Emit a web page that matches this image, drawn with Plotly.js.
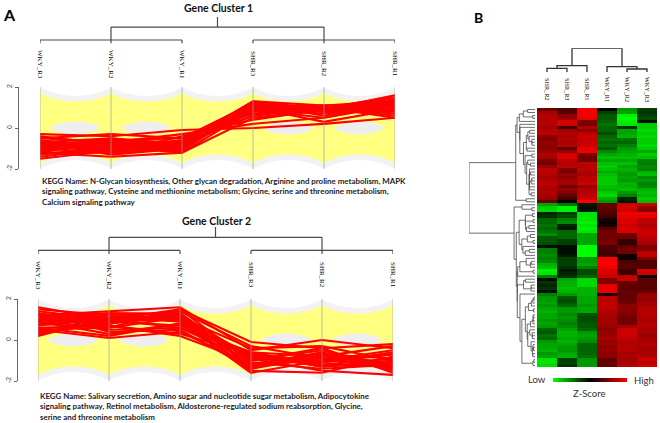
<!DOCTYPE html>
<html><head><meta charset="utf-8">
<script src="https://cdn.plot.ly/plotly-3.0.1.min.js"></script>
<style>html,body{margin:0;padding:0;background:#fff}#chart{width:660px;height:423px}</style>
</head><body><div id="chart"></div>
<script>
// ---------------- DATA ----------------
const samplesA = ['WKY_R3','WKY_R2','WKY_R1','SHR_R3','SHR_R2','SHR_R1'];
const samplesB = ['SHR_R2','SHR_R3','SHR_R1','WKY_R1','WKY_R2','WKY_R3'];
const titles = ['Gene Cluster 1','Gene Cluster 2'];
const keggText1 = 'KEGG Name: N-Glycan biosynthesis, Other glycan degradation, Arginine and proline metabolism, MAPK<br>signaling pathway, Cysteine and methionine metabolism; Glycine, serine and threonine metabolism,<br>Calcium signaling pathway';
const keggText2 = 'KEGG Name: Salivary secretion, Amino sugar and nucleotide sugar metabolism, Adipocytokine<br>signaling pathway, Retinol metabolism, Aldosterone-regulated sodium reabsorption, Glycine,<br>serine and threonine metabolism';
const yTicks = [-2, 0, 2];

// gene profiles (z-scores) in sample order samplesA
const cluster1Genes = [
 [-0.3,-0.4,-0.1,0.0,0.2,0.5],[-0.5,-0.3,-0.5,1.2,0.9,1.6],[-0.6,-0.9,-0.6,1.0,1.0,1.2],
 [-0.7,-0.5,-0.8,1.3,0.9,1.0],[-0.8,-1.0,-0.9,0.8,1.1,1.3],[-0.9,-0.7,-1.0,1.1,0.8,0.9],
 [-1.0,-1.2,-0.7,0.6,1.0,1.5],[-1.1,-0.8,-1.1,1.2,1.0,0.7],[-1.2,-1.4,-1.2,0.5,0.9,1.4],
 [-1.3,-0.9,-0.8,0.9,0.7,1.1],[-1.5,-1.1,-0.9,1.0,1.1,0.8],[-0.4,-0.8,-1.0,1.2,0.6,1.2],
 [-0.6,-1.2,-0.4,0.4,0.9,1.3],[-0.8,-0.6,-0.7,1.3,1.1,1.0],[-1.0,-0.9,-1.2,0.9,0.5,1.1],
 [-1.2,-0.6,-0.5,0.7,1.0,1.2],[-0.7,-1.3,-1.0,1.1,1.0,0.6],[-0.9,-1.1,-0.6,1.0,0.3,0.9],
 [-1.1,-0.5,-0.9,0.8,1.0,1.4],[-1.4,-1.0,-1.1,1.1,0.9,1.0],[-0.5,-0.7,-0.3,0.2,0.5,1.2],
 [-0.8,-0.9,-1.0,1.2,1.0,0.5],[-1.0,-0.7,-0.8,0.6,1.1,1.1],[-1.2,-1.2,-1.0,1.0,0.8,1.3]
];
const cluster2Genes = [
 [1.6,1.0,1.5,-0.1,-0.4,-0.2],[1.2,1.4,1.6,-0.5,0.0,-0.4],[1.0,0.9,1.3,-1.0,-0.5,-1.3],
 [0.8,1.2,0.9,-0.8,-1.0,-0.7],[0.5,0.6,1.1,-1.2,-0.6,-1.5],[0.3,0.9,0.7,-0.6,-1.2,-0.9],
 [1.3,0.4,0.5,-1.4,-0.8,-1.1],[0.2,1.1,1.0,-0.9,-1.5,-1.7],[1.1,0.7,0.2,-1.1,-1.1,-0.6],
 [0.9,1.3,1.2,-1.3,-0.7,-1.2],[0.6,0.2,0.8,-0.7,-1.3,-1.0],[1.4,1.0,1.0,-1.5,-1.6,-0.8],
 [0.4,0.8,1.4,-0.3,-0.9,-1.4],[1.0,0.5,0.6,-1.0,-0.4,-1.6],[0.7,1.1,0.9,-1.6,-1.0,-0.5],
 [1.2,0.8,1.2,-0.8,-1.2,-1.3],[0.5,0.1,0.4,-1.2,-0.7,-0.9],[1.5,1.2,1.1,-0.4,-0.3,-1.0],
 [0.8,0.6,1.5,-1.1,-1.4,-1.2],[0.3,1.0,0.6,-0.6,-0.8,-0.3],[1.1,1.3,1.3,-1.3,-0.9,-1.1],
 [0.9,0.3,0.8,-0.9,-1.1,-0.7],[1.3,0.9,1.0,-1.4,-0.6,-1.4],[0.6,0.7,0.3,-0.7,-1.3,-1.1]
];

// background envelopes (all genes), read at fractions of each gap between axes
const envFractions = [0, 0.08, 0.2, 0.35, 0.5, 0.65, 0.8, 0.92, 1];
const yellowTop = [1.72, 1.55, 1.42, 1.32, 1.28, 1.32, 1.42, 1.55, 1.72];
const grayTop   = [1.98, 1.85, 1.7, 1.6, 1.55, 1.6, 1.7, 1.85, 1.98];
const holeFractions = [0.12, 0.25, 0.38, 0.5, 0.62, 0.75, 0.86];
const holeHalf      = [0, 0.2, 0.29, 0.32, 0.29, 0.2, 0];
const holeGaps = [0, 1, 3, 4];

// heatmap z-scores, rows top->bottom, columns samplesB
const heatRows = [
 [0.9,0.6,1.9,0.0,-1.2,-0.5],[1.3,0.7,1.9,-0.5,-1.3,-0.4],[1.4,1.1,1.9,-0.7,-1.9,-0.5],
 [1.4,1.2,1.8,-0.7,-2.0,-0.6],[1.4,1.7,1.0,-0.8,-1.9,-0.1],[1.4,1.7,0.9,-0.9,-1.8,-1.6],
 [1.3,0.5,1.4,-0.8,-0.4,-1.6],[1.4,1.3,1.1,-0.8,-1.3,-1.7],[1.5,1.4,1.5,-0.6,-1.3,-1.6],
 [1.1,1.3,1.6,-0.8,-1.4,-1.7],[1.0,1.4,1.5,-0.9,-0.9,-1.6],[1.2,1.3,1.6,-0.8,-0.8,-1.6],
 [1.1,1.4,1.6,-0.9,-1.0,-1.7],[1.1,0.7,1.8,-0.7,-1.2,-1.6],[1.2,1.2,1.9,-1.1,-1.3,-1.3],
 [1.4,1.7,1.0,-1.3,-1.4,-1.6],[1.3,1.7,0.9,-1.5,-1.5,-1.5],[1.0,1.5,0.9,-1.3,-1.3,-1.0],
 [0.9,1.4,1.5,-1.5,-1.5,-1.0],[1.2,1.5,1.4,-1.6,-1.3,-1.1],[1.5,1.0,1.5,-1.5,-1.4,-1.0],
 [1.5,0.9,1.4,-1.3,-1.3,-1.4],[1.4,1.2,1.3,-1.5,-1.2,-1.5],[1.3,1.1,1.5,-1.6,-1.3,-1.1],
 [1.4,1.3,1.4,-1.6,-1.2,-1.2],[1.5,1.3,1.6,-1.6,-1.4,-1.0],[1.4,0.9,1.2,-1.5,-1.4,-1.1],
 [1.3,1.2,1.4,-1.4,-1.5,-1.4],[1.4,1.0,1.4,-1.6,-1.2,-1.5],[1.3,0.8,1.5,-1.7,-1.0,-1.4],
 [1.2,0.5,1.6,-1.4,-0.3,-1.6],[0.8,0.0,2.0,-1.2,-0.2,-1.5],
 [-1.3,-0.9,-0.2,0.8,1.6,1.6],[-1.6,-1.9,-0.1,0.8,1.7,1.2],[-1.7,-1.9,-0.2,0.7,1.6,1.0],
 [-0.3,-0.5,-1.8,0.6,1.9,1.9],[-0.4,-0.6,-1.8,0.5,1.8,1.8],[-0.8,-1.0,-1.8,0.2,1.7,1.5],
 [-0.8,-1.1,-1.9,0.1,1.7,1.5],[-0.9,-0.3,-1.8,0.2,1.6,1.4],[-0.8,-0.2,-1.9,0.7,1.7,1.5],
 [-0.9,-0.8,-1.8,0.9,1.7,1.6],[-1.1,-0.8,-1.3,0.9,0.9,1.6],[-0.7,-0.8,-1.3,0.9,0.9,1.5],
 [-0.7,-0.5,-1.3,0.9,0.4,1.4],[-0.6,-0.5,-1.3,1.0,0.4,1.3],[-0.1,-0.1,-2.0,0.6,0.8,1.0],
 [-1.0,-0.1,-2.0,0.6,0.9,1.0],[-1.0,-0.1,-2.0,0.5,0.9,1.5],[-1.1,-0.2,-2.0,0.5,0.1,1.5],
 [-1.0,-0.5,-1.2,2.0,0.1,1.0],[-1.1,-0.5,-1.2,2.0,0.6,0.6],[-1.4,-0.5,-1.3,2.0,0.7,0.6],
 [-1.5,-0.4,-1.0,1.9,0.7,0.6],[-1.9,-0.2,-0.6,1.7,0.5,1.7],[-1.8,-0.3,-0.6,1.7,0.5,1.6],
 [-1.0,-0.4,-0.8,1.6,1.5,0.1],[-0.1,-1.3,-1.7,1.0,1.6,0.7],[-0.4,-1.4,-1.7,1.0,0.8,0.7],
 [-0.3,-1.4,-1.7,1.8,0.8,0.7],[-0.4,-1.5,-1.4,1.8,0.7,0.7],[-0.1,-1.4,-1.4,1.8,0.8,0.8],
 [-1.0,-1.2,-1.4,0.2,0.8,1.2],[-1.2,-0.7,-1.3,1.5,0.8,1.2],[-1.2,-0.6,-1.3,1.5,0.8,1.2],
 [-1.3,-0.7,-1.3,1.5,0.9,1.3],[-1.2,-0.8,-1.2,1.5,1.1,1.3],[-1.3,-1.2,-1.3,1.5,1.1,1.4],
 [-1.4,-1.2,-1.3,1.4,1.1,1.4],[-1.3,-1.1,-0.7,1.3,1.0,1.4],[-1.3,-1.2,-0.6,1.3,0.9,1.4],
 [-1.2,-1.1,-0.6,1.3,0.9,1.3],[-1.3,-1.0,-0.7,1.3,0.9,1.4],[-1.2,-1.1,-0.7,1.2,1.3,1.4],
 [-0.8,-1.3,-0.8,1.1,1.6,1.3],[-0.7,-1.4,-1.2,1.2,1.6,1.3],[-0.9,-1.4,-1.3,1.2,1.6,1.2],
 [-0.8,-1.3,-1.2,1.3,1.5,1.3],[-1.2,-1.4,-1.1,1.2,1.4,1.3],[-1.3,-1.3,-0.8,1.2,1.4,1.4],
 [-1.3,-1.2,-0.8,1.1,1.4,1.3],[-1.4,-1.2,-0.8,1.2,1.4,1.3],[-1.2,-1.3,-0.8,1.1,1.3,1.3],
 [-1.3,-1.4,-0.9,1.1,1.3,1.4],[-1.8,-0.5,-1.2,0.8,1.3,1.6],[-1.8,-0.5,-1.2,0.8,1.3,1.5],
 [-1.7,-0.4,-1.2,0.8,1.4,1.6]
];
// column dendrogram linkage [childA, childB, height]; ids >= 6 are earlier merges
const colLinkage = [[0,1,4.0],[4,5,3.3],[6,2,6.6],[7,3,5.6],[8,9,24]];
// panel A sample dendrogram
const groupsA = [[0,1,2],[3,4,5]];
const groupHeightA = 1.0, rootHeightA = 4.7, stemTopA = 7.6;
const zRange = [-2, 2];

// ---------------- HELPERS ----------------
const W = 660, Hh = 423;
const px = p => p / W;
const py = p => 1 - p / Hh;
const idx = samplesA.map((s,i)=>i);

function envelopePoly(top){
  const xs=[], ys=[];
  for(let g=0; g<samplesA.length-1; g++){
    envFractions.forEach((f,k)=>{ if(g>0 && k===0) return; xs.push(g+f); ys.push(top[k]); });
  }
  return {x: xs.concat(xs.slice().reverse()), y: ys.concat(ys.map(v=>-v).reverse())};
}
function holePoly(g){
  const xs = holeFractions.map(f=>g+f);
  return {x: xs.concat(xs.slice().reverse()), y: holeHalf.concat(holeHalf.map(v=>-v).reverse())};
}
function geneLines(genes){
  const xs=[], ys=[];
  genes.forEach(g=>{ g.forEach((v,i)=>{xs.push(i); ys.push(v);}); xs.push(null); ys.push(null); });
  return {x:xs, y:ys};
}
function groupDendro(){
  const xs=[], ys=[], centers=[];
  groupsA.forEach(g=>{
    const lo=Math.min(...g), hi=Math.max(...g);
    xs.push(lo,hi,null); ys.push(groupHeightA,groupHeightA,null);
    g.forEach(i=>{ xs.push(i,i,null); ys.push(0,groupHeightA,null); });
    const c=(lo+hi)/2; centers.push(c);
    xs.push(c,c,null); ys.push(groupHeightA,rootHeightA,null);
  });
  xs.push(centers[0],centers[1],null); ys.push(rootHeightA,rootHeightA,null);
  const m=(centers[0]+centers[1])/2;
  xs.push(m,m,null); ys.push(rootHeightA,stemTopA,null);
  return {x:xs,y:ys};
}
function linkageLines(link, n){
  const pos=[...Array(n).keys()], hs=Array(n).fill(0), xs=[], ys=[];
  link.forEach(([a,b,h])=>{
    xs.push(pos[a],pos[a],pos[b],pos[b],null); ys.push(hs[a],h,h,hs[b],null);
    pos.push((pos[a]+pos[b])/2); hs.push(h);
  });
  return {x:xs,y:ys};
}
function rowDendro(rows){
  const D = rows.map(a=>rows.map(b=>Math.sqrt(a.reduce((s,v,i)=>s+(v-b[i])**2,0))));
  let cl = rows.map((r,i)=>({m:[i],pos:i,h:0}));
  const xs=[], ys=[];
  while(cl.length>1){
    let best=-1, bd=Infinity;
    for(let k=0;k<cl.length-1;k++){
      const a=cl[k], b=cl[k+1]; let s=0;
      for(const i of a.m) for(const j of b.m) s+=D[i][j];
      const d=s/(a.m.length*b.m.length);
      if(d<bd){bd=d; best=k;}
    }
    const a=cl[best], b=cl[best+1]; const h=Math.max(bd,a.h,b.h);
    xs.push(a.h,h,h,b.h,null); ys.push(a.pos,a.pos,b.pos,b.pos,null);
    cl.splice(best,2,{m:a.m.concat(b.m),pos:(a.pos+b.pos)/2,h:h});
  }
  return {x:xs,y:ys,H:cl[0].h};
}

// ---------------- TRACES ----------------
const traces=[], shapes=[], annotations=[];
const YEL='#ffff80', GRY='#f2f2f2', HOLE='#eeeeee', RED='#ff0000', DCOL='#4a4a4a';

const panels = [
  {genes:cluster1Genes, xa:'x', ya:'y', da:'y3', kegg:keggText1, title:titles[0],
   xl:40, xr:395, yt:87, yb:169, axisX:18, titleY:8, labY:64, keggY:174, keggX:40, dTop:17, dLeaf:43.5},
  {genes:cluster2Genes, xa:'x2', ya:'y2', da:'y4', kegg:keggText2, title:titles[1],
   xl:38, xr:393, yt:299, yb:381, axisX:17, titleY:221, labY:275, keggY:389, keggX:38, dTop:227, dLeaf:254}
];
const layout = {width:W, height:Hh, margin:{l:0,r:0,t:0,b:0}, paper_bgcolor:'#fff', plot_bgcolor:'rgba(0,0,0,0)',
  showlegend:false, font:{family:'Lato, sans-serif', color:'#222'}};

panels.forEach((p,pi)=>{
  const g = envelopePoly(grayTop), y = envelopePoly(yellowTop);
  traces.push({type:'scatter', mode:'lines', x:g.x, y:g.y, xaxis:p.xa, yaxis:p.ya, fill:'toself', fillcolor:GRY, line:{width:0}, hoverinfo:'skip'});
  traces.push({type:'scatter', mode:'lines', x:y.x, y:y.y, xaxis:p.xa, yaxis:p.ya, fill:'toself', fillcolor:YEL, line:{width:0}, hoverinfo:'skip'});
  holeGaps.forEach(gp=>{
    const h = holePoly(gp);
    traces.push({type:'scatter', mode:'lines', x:h.x, y:h.y, xaxis:p.xa, yaxis:p.ya, fill:'toself', fillcolor:HOLE, line:{width:0}, hoverinfo:'skip'});
  });
  const gl = geneLines(p.genes);
  traces.push({type:'scatter', mode:'lines', x:gl.x, y:gl.y, xaxis:p.xa, yaxis:p.ya, line:{color:RED, width:2.1}, hoverinfo:'skip'});
  const dd = groupDendro();
  traces.push({type:'scatter', mode:'lines', x:dd.x, y:dd.y, xaxis:p.xa, yaxis:p.da, line:{color:DCOL, width:1.2}, hoverinfo:'skip'});

  const xk = pi===0?'xaxis':'xaxis2', yk = pi===0?'yaxis':'yaxis2', dk = pi===0?'yaxis3':'yaxis4';
  layout[xk] = {domain:[px(p.xl),px(p.xr)], range:[0,samplesA.length-1], anchor:p.ya, visible:false, fixedrange:true};
  layout[yk] = {domain:[py(p.yb),py(p.yt)], range:[-2,2], anchor:'free', position:px(p.axisX), showline:true, linecolor:'#666', linewidth:1,
    ticks:'outside', ticklen:3, tickcolor:'#666', tickvals:yTicks, ticktext:yTicks.map(String), tickangle:-90,
    tickfont:{size:7, color:'#444', family:'Liberation Sans, Arial'}, showgrid:false, zeroline:false, fixedrange:true};
  layout[dk] = {domain:[py(p.dLeaf),py(p.dTop)], range:[0,stemTopA], anchor:p.xa, visible:false};

  idx.forEach(i=>{
    shapes.push({type:'line', xref:p.xa, yref:p.ya, x0:i, x1:i, y0:-2, y1:2, line:{color:'rgba(160,160,160,0.7)', width:1}, layer:'above'});
    annotations.push({xref:p.xa, yref:'paper', x:i, y:py(p.labY), text:samplesA[i], textangle:90, showarrow:false,
      xanchor:'center', yanchor:'middle', font:{family:'Liberation Serif, Times New Roman, serif', size:7, color:'#000'}});
  });
  annotations.push({xref:'paper', yref:'paper', x:px((p.xl+p.xr)/2+0.5), y:py(p.titleY), text:'<b>'+p.title+'</b>', showarrow:false,
    xanchor:'center', yanchor:'middle', font:{size:10.5, color:'#111'}});
  annotations.push({xref:'paper', yref:'paper', x:px(p.keggX), y:py(p.keggY), text:'<b>'+p.kegg+'</b>', showarrow:false,
    xanchor:'left', yanchor:'top', align:'left', font:{size:7.9, color:'#222'}});
});

// ----- Panel B -----
const nR = heatRows.length;
traces.push({type:'heatmap', z:heatRows, x:idx, y:heatRows.map((r,i)=>i), xaxis:'x3', yaxis:'y5',
  colorscale:[[0,'#00ff00'],[0.5,'#000000'],[1,'#ff0000']], zmin:zRange[0], zmax:zRange[1], hoverinfo:'skip',
  showscale:true, colorbar:{orientation:'h', x:px(590), xanchor:'center', y:py(379.5), yanchor:'middle',
    len:74, lenmode:'pixels', thickness:4, thicknessmode:'pixels', xpad:0, ypad:0, outlinewidth:0,
    showticklabels:false, ticks:''}});
const rd = rowDendro(heatRows);
traces.push({type:'scatter', mode:'lines', x:rd.x, y:rd.y, xaxis:'x4', yaxis:'y5', line:{color:DCOL, width:0.8}, hoverinfo:'skip'});
const cd = linkageLines(colLinkage, samplesB.length);
traces.push({type:'scatter', mode:'lines', x:cd.x, y:cd.y, xaxis:'x3', yaxis:'y6', line:{color:'#333', width:1.3}, hoverinfo:'skip'});

layout.xaxis3 = {domain:[px(537),px(657)], range:[-0.5,5.5], anchor:'y5', visible:false};
layout.yaxis5 = {domain:[py(367),py(108)], range:[nR-0.5,-0.5], anchor:'x3', visible:false};
layout.xaxis4 = {domain:[px(469),px(535)], range:[rd.H,0], anchor:'y5', visible:false};
layout.yaxis6 = {domain:[py(72.3),py(48.3)], range:[0,24], anchor:'x3', visible:false};

samplesB.forEach((s,i)=>{
  annotations.push({xref:'x3', yref:'paper', x:i, y:py(89), text:s, textangle:90, showarrow:false, xanchor:'center', yanchor:'middle',
    font:{family:'Liberation Serif, Times New Roman, serif', size:6.2, color:'#000'}});
});
annotations.push({xref:'paper', yref:'paper', x:px(537), y:py(379.5), text:'Low', showarrow:false, xanchor:'center', yanchor:'middle', font:{size:9.5, color:'#333'}});
annotations.push({xref:'paper', yref:'paper', x:px(643.5), y:py(380), text:'High', showarrow:false, xanchor:'center', yanchor:'middle', font:{size:9.5, color:'#333'}});
annotations.push({xref:'paper', yref:'paper', x:px(588.5), y:py(393), text:'Z-Score', showarrow:false, xanchor:'center', yanchor:'middle', font:{size:9.5, color:'#333'}});
annotations.push({xref:'paper', yref:'paper', x:px(9), y:py(14), text:'<b>A</b>', showarrow:false, xanchor:'center', yanchor:'middle', font:{size:16, color:'#000'}});
annotations.push({xref:'paper', yref:'paper', x:px(478), y:py(17.5), text:'<b>B</b>', showarrow:false, xanchor:'center', yanchor:'middle', font:{size:14, color:'#000'}});

layout.shapes = shapes;
layout.annotations = annotations;
Plotly.newPlot('chart', traces, layout, {staticPlot:true, displayModeBar:false});
</script>
</body></html>
